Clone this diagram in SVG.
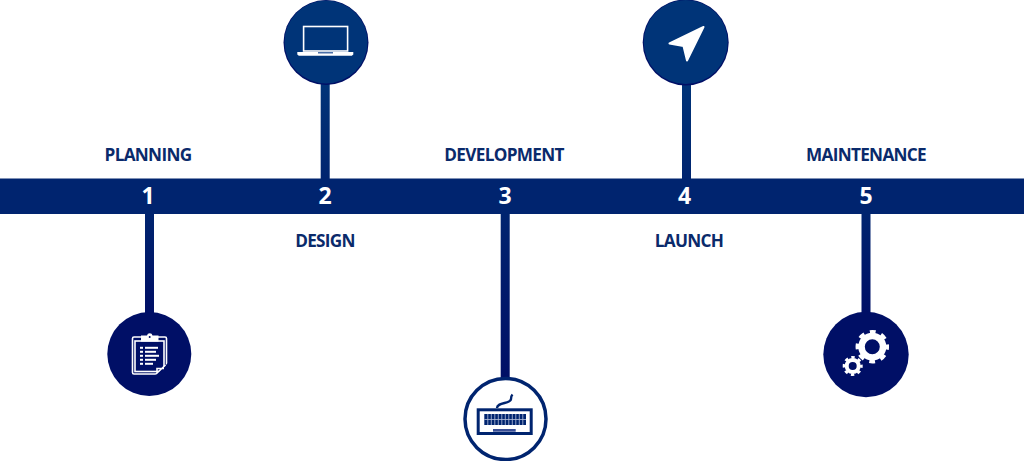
<svg xmlns="http://www.w3.org/2000/svg" width="1024" height="461" viewBox="0 0 1024 461">
<style>
.bar{fill:#00246f}
.lbl{font:700 17.200px "Open Sans",sans-serif;fill:#0a2a6b;text-anchor:middle;letter-spacing:-.7px}
.num{font:700 23px "Open Sans",sans-serif;fill:#fff;text-anchor:middle}
.w{fill:none;stroke:#fff;stroke-width:1.600}
.wf{fill:#fff}
.k{fill:#000f66}
</style>
<defs>
<linearGradient id="stemUp" x1="0" y1="0" x2="0" y2="1"><stop offset="0" stop-color="#003478"/><stop offset="1" stop-color="#00246f"/></linearGradient>
<linearGradient id="stemDown" x1="0" y1="0" x2="0" y2="1"><stop offset="0" stop-color="#00246f"/><stop offset="1" stop-color="#000f66"/></linearGradient>
</defs>
<rect width="1024" height="461" fill="#fff"/>
<g id="connectors">
<rect x="145" y="214" width="9" height="100" fill="url(#stemDown)"/>
<rect x="320.700" y="80" width="9" height="99" fill="url(#stemUp)"/>
<rect x="500.700" y="214" width="9" height="165" fill="url(#stemDown)"/>
<rect x="682" y="80" width="9" height="99" fill="url(#stemUp)"/>
<rect x="861.500" y="214" width="9" height="100" fill="url(#stemDown)"/>
</g>
<g id="timeline">
<rect class="bar" x="0" y="178.500" width="1024" height="35.500"/>
</g>
<g id="node1">
<text class="lbl" x="148" y="160.700">PLANNING</text>
<text class="num" x="148" y="203.500">1</text>
<circle cx="149.300" cy="354" r="42" fill="#000f66"/>
<rect class="w" x="132.500" y="337" width="34" height="37" rx="1.500"/>
<rect class="w" x="135" y="341" width="29" height="30.500"/>
<path class="wf" d="M141 335.500h6a2.800 2.800 0 0 1 5.500 0h6v6h-17.500z"/>
<circle cx="149.700" cy="337" r="1" fill="#000f66"/>
<path class="k" d="M155.500 375l12.500-12v12z"/>
<path d="M156 374l9.500-9M157 373v-4.500h7" fill="none" stroke="#fff" stroke-width="1.600"/>
<g class="wf"><rect x="140" y="346.800" width="3" height="2"/><rect x="140" y="350.800" width="3" height="2"/><rect x="140" y="354.800" width="3" height="2"/><rect x="140" y="358.800" width="3" height="2"/><rect x="140" y="362.800" width="3" height="2"/>
<rect x="145" y="346.800" width="13" height="2"/><rect x="145" y="350.800" width="11" height="2"/><rect x="145" y="354.800" width="14" height="2"/><rect x="145" y="358.800" width="11" height="2"/><rect x="145" y="362.800" width="8" height="2"/></g>
</g>
<g id="node2">
<text class="lbl" x="325" y="246.700">DESIGN</text>
<text class="num" x="325" y="203.500">2</text>
<circle cx="326" cy="42.500" r="42.500" fill="#000f66"/>
<circle cx="326" cy="42" r="41.500" fill="#003478"/>
<rect class="w" x="303.600" y="26.500" width="44" height="24.500" stroke-width="3"/>
<path class="wf" d="M297.300 52h56v2.500l-1.500 1.200h-53l-1.500-1.200z"/>
<rect x="318" y="52" width="15" height="1.500" fill="#4a6fa8"/>
</g>
<g id="node3">
<text class="lbl" x="504" y="160.700">DEVELOPMENT</text>
<text class="num" x="505" y="203.500">3</text>
<circle cx="505.500" cy="419" r="40.500" fill="#fff" stroke="#00246f" stroke-width="3.500"/>
<rect x="478.200" y="409.800" width="53" height="23.700" fill="none" stroke="#00246f" stroke-width="3"/>
<path d="M497 408c0-6 14-4 14-9c0-2 0-3 1.500-4.500" fill="none" stroke="#00246f" stroke-width="2.400"/>
<rect x="484.300" y="414" width="41.700" height="11" fill="#00246f"/>
<path d="M484.300 419.500h41.700M487.800 414v11M491.300 414v11M494.800 414v11M498.300 414v11M501.800 414v11M505.300 414v11M508.800 414v11M512.300 414v11M515.800 414v11M519.300 414v11M522.800 414v11" stroke="#b8c2dc" stroke-width=".8" fill="none"/>
<rect x="493" y="429" width="22.700" height="2.700" fill="#3a4f96"/>
</g>
<g id="node4">
<text class="lbl" x="689" y="246.700">LAUNCH</text>
<text class="num" x="684.500" y="203.500">4</text>
<circle cx="685.700" cy="42.500" r="43" fill="#000f66"/>
<circle cx="685.700" cy="42" r="42" fill="#003478"/>
<path class="wf" stroke="#fff" stroke-width="2" stroke-linejoin="round" d="M703.500 27L669.500 43.500L683.500 46L687 60.500z"/>
</g>
<g id="node5">
<text class="lbl" x="866" y="160.700">MAINTENANCE</text>
<text class="num" x="866" y="203.500">5</text>
<circle cx="866" cy="354.500" r="42.700" fill="#000f66"/>
<circle cx="872.300" cy="346.700" r="10.750" fill="none" stroke="#fff" stroke-width="6.500"/>
<circle cx="872.300" cy="346.700" r="15" fill="none" stroke="#fff" stroke-width="3.500" stroke-dasharray="5.890 5.890" stroke-dashoffset="2.945"/>
<circle cx="852.700" cy="366" r="6" fill="none" stroke="#fff" stroke-width="4"/>
<circle cx="852.700" cy="366" r="8.700" fill="none" stroke="#fff" stroke-width="2.600" stroke-dasharray="3.420 3.420" stroke-dashoffset="1.710"/>
</g>
</svg>
